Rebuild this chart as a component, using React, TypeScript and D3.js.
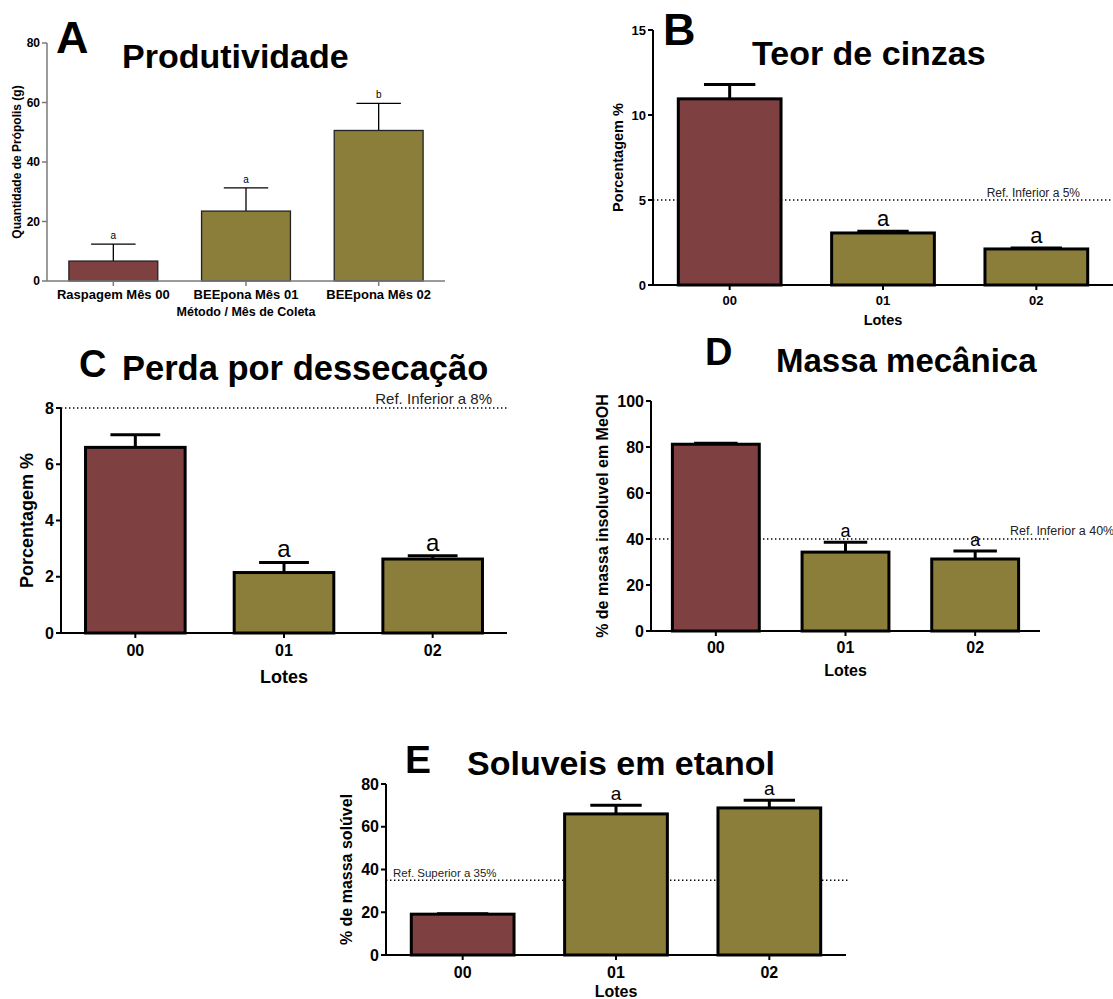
import React from 'react';
import * as d3 from 'd3';

// categories
const lotes = ['00', '01', '02'];
const metodos = ['Raspagem Mês 00', 'BEEpona Mês 01', 'BEEpona Mês 02'];

// A - Produtividade (g)
const prodMean = [6.7, 23.5, 50.6];
const prodErr = [5.7, 7.8, 9.1];
const prodSig = ['a', 'a', 'b'];

// B - Teor de cinzas (%)
const cinzasMean = [10.95, 3.06, 2.12];
const cinzasErr = [0.85, 0.1, 0.06];
const cinzasSig = ['', 'a', 'a'];

// C - Perda por dessecação (%)
const perdaMean = [6.6, 2.15, 2.63];
const perdaErr = [0.45, 0.36, 0.12];
const perdaSig = ['', 'a', 'a'];

// D - Massa mecânica (%)
const massaMean = [81.2, 34.3, 31.3];
const massaErr = [0.4, 4.3, 3.5];
const massaSig = ['', 'a', 'a'];

// E - Soluveis em etanol (%)
const soluvMean = [19.1, 66.0, 68.8];
const soluvErr = [0.2, 4.1, 3.6];
const soluvSig = ['', 'a', 'a'];

const MAROON = '#7F4041';
const OLIVE = '#8B7D3A';
const FONT = '"Liberation Sans", Arial, sans-serif';

type Ref = { value: number; label: string; anchor: 'start' | 'end'; lx: number; ly: number; size: number; xEnd: number; xStart: number };

type Panel = {
  cats: string[]; mean: number[]; err: number[]; sig: string[];
  max: number; step: number;
  x0: number; x1: number; yTop: number; yBottom: number;
  letter: string; letterX: number; letterY: number; letterSize: number;
  title: string; titleX: number; titleY: number; titleSize: number;
  tickSize: number; xTickSize: number; tickLabelY: number;
  yLabel: string; yLabelX: number; yLabelSize: number;
  xLabel: string; xLabelY: number; xLabelSize: number;
  sigSize: number; strokeW: number; axisColor: string; axisW: number;
  ref?: Ref;
};

const panels: Panel[] = [
  {
    cats: metodos, mean: prodMean, err: prodErr, sig: prodSig, max: 80, step: 20,
    x0: 47, x1: 445, yTop: 43, yBottom: 281,
    letter: 'A', letterX: 56, letterY: 53, letterSize: 45,
    title: 'Produtividade', titleX: 122, titleY: 68, titleSize: 34,
    tickSize: 12, xTickSize: 13, tickLabelY: 294,
    yLabel: 'Quantidade de Própolis (g)', yLabelX: 17, yLabelSize: 12,
    xLabel: 'Método / Mês de Coleta', xLabelY: 312, xLabelSize: 12.5,
    sigSize: 10, strokeW: 1.3, axisColor: '#7a7a7a', axisW: 1.5,
  },
  {
    cats: lotes, mean: cinzasMean, err: cinzasErr, sig: cinzasSig, max: 15, step: 5,
    x0: 653, x1: 1113, yTop: 30, yBottom: 285,
    letter: 'B', letterX: 663, letterY: 45, letterSize: 45,
    title: 'Teor de cinzas', titleX: 752, titleY: 65, titleSize: 34,
    tickSize: 13, xTickSize: 13, tickLabelY: 300,
    yLabel: 'Porcentagem %', yLabelX: 618, yLabelSize: 14.5,
    xLabel: 'Lotes', xLabelY: 320, xLabelSize: 14.5,
    sigSize: 22, strokeW: 3, axisColor: '#000', axisW: 2,
    ref: { value: 5, label: 'Ref. Inferior a 5%', anchor: 'end', lx: 1080, ly: 197, size: 12, xStart: 653, xEnd: 1113 },
  },
  {
    cats: lotes, mean: perdaMean, err: perdaErr, sig: perdaSig, max: 8, step: 2,
    x0: 61, x1: 507, yTop: 408, yBottom: 633,
    letter: 'C', letterX: 79, letterY: 377, letterSize: 38,
    title: 'Perda por dessecação', titleX: 122, titleY: 380, titleSize: 34.5,
    tickSize: 16, xTickSize: 16, tickLabelY: 650,
    yLabel: 'Porcentagem %', yLabelX: 27, yLabelSize: 18,
    xLabel: 'Lotes', xLabelY: 677, xLabelSize: 18,
    sigSize: 24, strokeW: 3, axisColor: '#000', axisW: 2,
    ref: { value: 8, label: 'Ref. Inferior a 8%', anchor: 'end', lx: 492, ly: 404, size: 15, xStart: 61, xEnd: 508 },
  },
  {
    cats: lotes, mean: massaMean, err: massaErr, sig: massaSig, max: 100, step: 20,
    x0: 651, x1: 1040, yTop: 401, yBottom: 631,
    letter: 'D', letterX: 705, letterY: 365, letterSize: 38,
    title: 'Massa mecânica', titleX: 776, titleY: 372, titleSize: 33,
    tickSize: 16, xTickSize: 16, tickLabelY: 647,
    yLabel: '% de massa insoluvel em MeOH', yLabelX: 602, yLabelSize: 16,
    xLabel: 'Lotes', xLabelY: 670, xLabelSize: 16,
    sigSize: 18, strokeW: 3, axisColor: '#000', axisW: 2,
    ref: { value: 40, label: 'Ref. Inferior a 40%', anchor: 'start', lx: 1010, ly: 535, size: 12.5, xStart: 647, xEnd: 1050 },
  },
  {
    cats: lotes, mean: soluvMean, err: soluvErr, sig: soluvSig, max: 80, step: 20,
    x0: 386, x1: 846, yTop: 784, yBottom: 955,
    letter: 'E', letterX: 405, letterY: 773, letterSize: 39,
    title: 'Soluveis em etanol', titleX: 467, titleY: 775, titleSize: 34,
    tickSize: 16, xTickSize: 16, tickLabelY: 972,
    yLabel: '% de massa solúvel', yLabelX: 346, yLabelSize: 16,
    xLabel: 'Lotes', xLabelY: 991, xLabelSize: 16,
    sigSize: 19, strokeW: 3, axisColor: '#000', axisW: 2,
    ref: { value: 35, label: 'Ref. Superior a 35%', anchor: 'start', lx: 393, ly: 877, size: 11.5, xStart: 386, xEnd: 848 },
  },
];

function BarPanel({ p }: { p: Panel }) {
  const x = d3.scaleBand<string>().domain(p.cats).range([p.x0, p.x1]).paddingInner(0.33).paddingOuter(0.165);
  const y = d3.scaleLinear().domain([0, p.max]).range([p.yBottom, p.yTop]);
  const ticks = d3.range(0, p.max + p.step / 2, p.step);
  const bw = x.bandwidth();
  const yMid = (p.yTop + p.yBottom) / 2;

  return (
    <g fontFamily={FONT}>
      <text x={p.letterX} y={p.letterY} fontSize={p.letterSize} fontWeight="bold">{p.letter}</text>
      <text x={p.titleX} y={p.titleY} fontSize={p.titleSize} fontWeight="bold">{p.title}</text>

      {p.ref && (
        <g>
          <line x1={p.ref.xStart} x2={p.ref.xEnd} y1={y(p.ref.value)} y2={y(p.ref.value)}
            stroke="#000" strokeWidth={1.4} strokeDasharray="1.4,2.6" />
          <text x={p.ref.lx} y={p.ref.ly} fontSize={p.ref.size} textAnchor={p.ref.anchor} fill="#222">{p.ref.label}</text>
        </g>
      )}

      {p.cats.map((c, i) => {
        const cx = (x(c) as number) + bw / 2;
        const top = y(p.mean[i]);
        const cap = y(p.mean[i] + p.err[i]);
        return (
          <g key={c}>
            <line x1={cx} x2={cx} y1={top} y2={cap} stroke="#000" strokeWidth={p.strokeW} />
            <line x1={cx - bw / 4} x2={cx + bw / 4} y1={cap} y2={cap} stroke="#000" strokeWidth={p.strokeW} />
            <rect x={x(c)} y={top} width={bw} height={p.yBottom - top}
              fill={i === 0 ? MAROON : OLIVE} stroke={p.strokeW > 2 ? '#000' : '#222'} strokeWidth={p.strokeW} />
            {p.sig[i] && (
              <text x={cx} y={cap - 5} fontSize={p.sigSize} textAnchor="middle">{p.sig[i]}</text>
            )}
            <line x1={cx} x2={cx} y1={p.yBottom} y2={p.yBottom + 5} stroke={p.axisColor} strokeWidth={p.axisW} />
            <text x={cx} y={p.tickLabelY} fontSize={p.xTickSize} fontWeight="bold" textAnchor="middle" dominantBaseline="central">{c}</text>
          </g>
        );
      })}

      {/* axes */}
      <line x1={p.x0} x2={p.x0} y1={p.yTop} y2={p.yBottom} stroke={p.axisColor} strokeWidth={p.axisW} />
      <line x1={p.x0} x2={p.x1} y1={p.yBottom} y2={p.yBottom} stroke={p.axisColor} strokeWidth={p.axisW} />
      {ticks.map(t => (
        <g key={t}>
          <line x1={p.x0 - 5} x2={p.x0} y1={y(t)} y2={y(t)} stroke={p.axisColor} strokeWidth={p.axisW} />
          <text x={p.x0 - 7} y={y(t)} fontSize={p.tickSize} fontWeight="bold" textAnchor="end" dominantBaseline="central">{t}</text>
        </g>
      ))}

      <text transform={`translate(${p.yLabelX},${yMid}) rotate(-90)`} fontSize={p.yLabelSize} fontWeight="bold"
        textAnchor="middle" dominantBaseline="central">{p.yLabel}</text>
      <text x={(p.x0 + p.x1) / 2} y={p.xLabelY} fontSize={p.xLabelSize} fontWeight="bold"
        textAnchor="middle" dominantBaseline="central">{p.xLabel}</text>
    </g>
  );
}

export default function App() {
  return (
    <svg width={1113} height={999} style={{ position: 'absolute', left: 0, top: 0, background: '#fff' }}>
      <rect width={1113} height={999} fill="#fff" />
      {panels.map((p, i) => <BarPanel key={i} p={p} />)}
    </svg>
  );
}
